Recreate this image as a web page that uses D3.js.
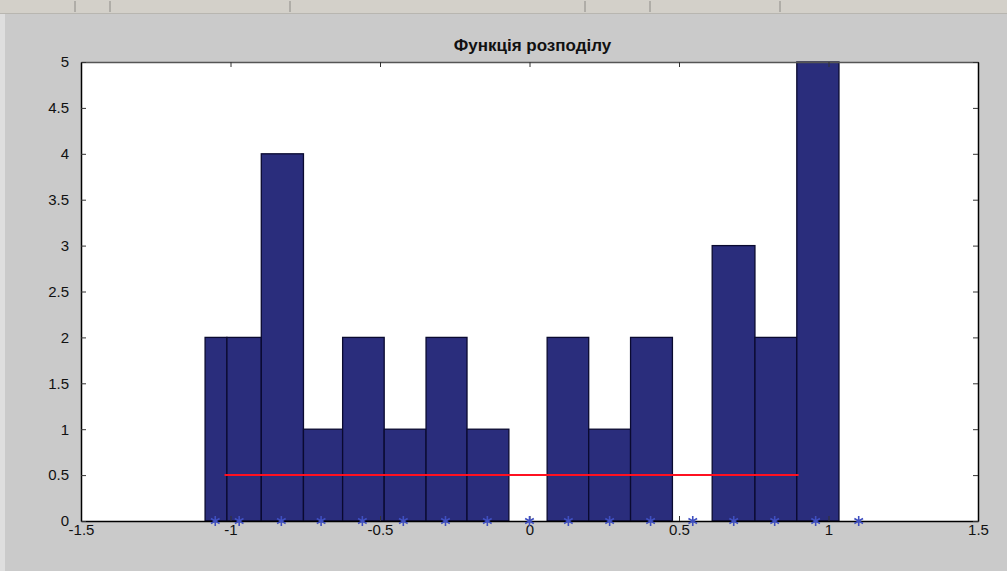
<!DOCTYPE html>
<html>
<head>
<meta charset="utf-8">
<script src="https://cdn.jsdelivr.net/npm/d3@7"></script>
<style>
  html, body { margin: 0; padding: 0; background: #cbcbcb; }
  svg { display: block; }
  text { font-family: "Liberation Sans", Arial, sans-serif; }
</style>
</head>
<body>
<svg id="chart" width="1007" height="571"></svg>
<script>
// ---- data ----
const titleText = "Функція розподілу";
const binLeft  = [-1.085, -1.012, -0.897, -0.756, -0.625, -0.486, -0.346, -0.209, 0.059, 0.198, 0.338, 0.611, 0.754, 0.894];
const binRight = [-1.012, -0.897, -0.756, -0.625, -0.486, -0.346, -0.209, -0.069, 0.198, 0.338, 0.478, 0.754, 0.894, 1.035];
const counts   = [2, 2, 4, 1, 2, 1, 2, 1, 2, 1, 2, 3, 2, 5];
const starX    = [-1.051, -0.971, -0.830, -0.697, -0.559, -0.422, -0.281, -0.141, 0.0, 0.130, 0.268, 0.405, 0.546, 0.683, 0.820, 0.957, 1.101];
const starY    = [0, 0, 0, 0, 0, 0, 0, 0, 0, 0, 0, 0, 0, 0, 0, 0, 0];
const redLineX = [-1.02, 0.90];
const redLineY = [0.5, 0.5];
const xTicks = [-1.5, -1, -0.5, 0, 0.5, 1, 1.5];
const yTicks = [0, 0.5, 1, 1.5, 2, 2.5, 3, 3.5, 4, 4.5, 5];

// ---- layout ----
const svg = d3.select("#chart");
const W = 1007, H = 571;
const plot = { left: 81, right: 978, top: 62, bottom: 521 };

// figure background
svg.append("rect").attr("x", 0).attr("y", 0).attr("width", W).attr("height", H).attr("fill", "#cacaca");
svg.append("rect").attr("x", 0).attr("y", 14).attr("width", 5).attr("height", H - 14).attr("fill", "#dedede");
// toolbar strip
svg.append("rect").attr("x", 0).attr("y", 0).attr("width", W).attr("height", 13).attr("fill", "#d3d0c9");
svg.append("line").attr("x1", 0).attr("x2", W).attr("y1", 13.5).attr("y2", 13.5).attr("stroke", "#b8b6b0");
[75, 110, 290, 585, 650, 780].forEach(px => {
  svg.append("line").attr("x1", px).attr("x2", px).attr("y1", 1).attr("y2", 12).attr("stroke", "#8c8a86");
});

const x = d3.scaleLinear().domain([-1.5, 1.5]).range([plot.left, plot.right]);
const y = d3.scaleLinear().domain([0, 5]).range([plot.bottom, plot.top]);

// plot area
svg.append("rect")
  .attr("x", plot.left).attr("y", plot.top)
  .attr("width", plot.right - plot.left).attr("height", plot.bottom - plot.top)
  .attr("fill", "#ffffff");

// bars
const bins = counts.map((c, i) => ({ x0: binLeft[i], x1: binRight[i], c }));
svg.append("g").selectAll("rect").data(bins).join("rect")
  .attr("x", d => x(d.x0))
  .attr("y", d => y(d.c))
  .attr("width", d => x(d.x1) - x(d.x0))
  .attr("height", d => y(0) - y(d.c))
  .attr("fill", "#2a2d7c")
  .attr("stroke", "#0a0a30")
  .attr("stroke-width", 1.3);

// red line
const line = d3.line().x(d => x(d[0])).y(d => y(d[1]));
svg.append("path")
  .datum(redLineX.map((v, i) => [v, redLineY[i]]))
  .attr("d", line)
  .attr("fill", "none")
  .attr("stroke", "#ff1020")
  .attr("stroke-width", 2);

// axes
const fmt = d => String(d);
const gB = svg.append("g").attr("transform", `translate(0,${plot.bottom})`)
  .call(d3.axisBottom(x).tickValues(xTicks).tickFormat(fmt).tickSizeInner(-5).tickSizeOuter(0).tickPadding(3));
const gT = svg.append("g").attr("transform", `translate(0,${plot.top})`)
  .call(d3.axisTop(x).tickValues(xTicks).tickFormat("").tickSizeInner(-5).tickSizeOuter(0));
const gL = svg.append("g").attr("transform", `translate(${plot.left},0)`)
  .call(d3.axisLeft(y).tickValues(yTicks).tickFormat(fmt).tickSizeInner(-5).tickSizeOuter(0).tickPadding(12));
const gR = svg.append("g").attr("transform", `translate(${plot.right},0)`)
  .call(d3.axisRight(y).tickValues(yTicks).tickFormat("").tickSizeInner(-5).tickSizeOuter(0));

[gB, gT, gL, gR].forEach(g => {
  g.select(".domain").attr("stroke", "#000").attr("stroke-width", 1.5);
  g.selectAll(".tick line").attr("stroke", "#333").attr("stroke-width", 1);
  g.selectAll(".tick text").attr("fill", "#111").attr("font-size", 15)
    .attr("font-family", "'Liberation Sans', Arial, sans-serif");
});
gT.select(".domain").attr("stroke", "#555");

// star markers (drawn on top, not clipped, like MATLAB)
const star = d3.symbol().type(d3.symbolAsterisk).size(70);
svg.append("g").selectAll("path").data(starX.map((v, i) => [v, starY[i]])).join("path")
  .attr("transform", d => `translate(${x(d[0])},${y(d[1])})`)
  .attr("d", star)
  .attr("fill", "none")
  .attr("stroke", "#3f4fc0")
  .attr("stroke-width", 1.6);

// title
svg.append("text")
  .attr("x", (plot.left + plot.right) / 2 + 3)
  .attr("y", 51)
  .attr("text-anchor", "middle")
  .attr("font-size", 17)
  .attr("font-weight", "bold")
  .attr("fill", "#111")
  .text(titleText);
</script>
</body>
</html>
